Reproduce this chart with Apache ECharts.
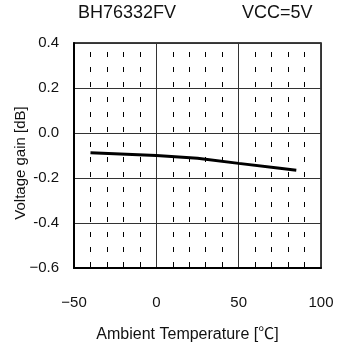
<!DOCTYPE html>
<html>
<head>
<meta charset="utf-8">
<script src="https://cdn.jsdelivr.net/npm/echarts@6/dist/echarts.min.js"></script>
<style>html,body{margin:0;padding:0;background:#fff;}#c{width:348px;height:349px;}</style>
</head>
<body>
<div id="c"></div>
<script>
const temperatures = [-40, 0, 25, 50, 75, 85];
const voltageGain = [-0.088, -0.100, -0.112, -0.135, -0.157, -0.166];
const xTickLabels = {'-50': '−50', '0': '0', '50': '50', '100': '100'};
const yTickLabels = {'-0.6': '−0.6', '-0.4': '-0.4', '-0.2': '-0.2', '0.0': '0.0', '0.2': '0.2', '0.4': '0.4'};
const chartTitle = 'BH76332FV';
const chartSubtitle = 'VCC=5V';
const xName = 'Ambient Temperature [℃]';
const yName = 'Voltage gain [dB]';

const narrow = "'Liberation Sans Narrow', 'Arial Narrow', 'Liberation Sans', Arial, sans-serif";
const sans = "'Liberation Sans', Arial, 'Noto Sans CJK JP', sans-serif";

const chart = echarts.init(document.getElementById('c'), null, {renderer: 'canvas'});
chart.setOption({
  animation: false,
  backgroundColor: '#fff',
  title: [
    {text: chartTitle, left: 78, top: 4, padding: 0, textStyle: {fontFamily: sans, fontSize: 18, fontWeight: 'normal', color: '#111'}},
    {text: chartSubtitle, left: 242, top: 4, padding: 0, textStyle: {fontFamily: sans, fontSize: 18, fontWeight: 'normal', color: '#111'}}
  ],
  grid: {left: 74, right: 27, top: 43, bottom: 81, show: true, borderColor: '#000', borderWidth: 1.5,
    containLabel: false, outerBoundsMode: 'none'},
  xAxis: {
    type: 'value', min: -50, max: 100, interval: 50,
    name: xName, nameLocation: 'middle', nameGap: 59, nameMoveOverlap: false,
    nameTextStyle: {fontFamily: sans, fontSize: 16, color: '#111', padding: [0, 20, 0, 0]},
    axisLine: {show: true, onZero: false, lineStyle: {color: '#000', width: 2}},
    axisTick: {show: false},
    axisLabel: {margin: 27, fontFamily: narrow, fontSize: 15, color: '#111',
      formatter: v => xTickLabels[String(v)] ?? String(v)},
    splitLine: {show: true, lineStyle: {color: '#333', width: 1}},
    minorTick: {show: false, splitNumber: 5},
    minorSplitLine: {show: true, lineStyle: {color: '#000', width: 1, type: [5, 10], dashOffset: 6}}
  },
  yAxis: {
    type: 'value', min: -0.6, max: 0.4, interval: 0.2,
    name: yName, nameLocation: 'middle', nameGap: 46, nameRotate: 90, nameMoveOverlap: false,
    nameTextStyle: {fontFamily: sans, fontSize: 15, color: '#111', padding: [0, 15, 0, 0]},
    axisLine: {show: true, onZero: false, lineStyle: {color: '#000', width: 2}},
    axisTick: {show: false},
    axisLabel: {margin: 15, fontFamily: narrow, fontSize: 15, color: '#111',
      formatter: v => yTickLabels[v.toFixed(1) === '-0.0' ? '0.0' : v.toFixed(1)] ?? v.toFixed(1)},
    splitLine: {show: true, lineStyle: {color: '#333', width: 1}}
  },
  series: [{
    type: 'line',
    data: temperatures.map((t, i) => [t, voltageGain[i]]),
    showSymbol: false,
    lineStyle: {color: '#000', width: 3},
    itemStyle: {color: '#000'}
  }]
});
</script>
</body>
</html>
